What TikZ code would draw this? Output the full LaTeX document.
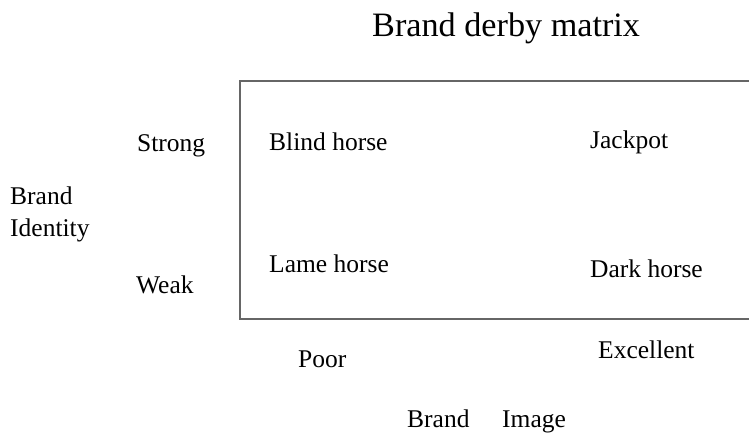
\documentclass[tikz,border=0pt]{standalone}
\usepackage{fontspec}
\setmainfont{Liberation Serif}
\begin{document}
\begin{tikzpicture}[x=1pt,y=-1pt,
  lbl/.style={anchor=base west,inner sep=0pt,font=\fontsize{25.5}{30}\selectfont},
  ttl/.style={anchor=base west,inner sep=0pt,font=\fontsize{34.2}{40}\selectfont},
  frame/.style={draw=black!60,line width=1.3pt}]
\useasboundingbox (0,0) rectangle (749,432);
\node[ttl] (title) at (372,36) {Brand derby matrix};
\coordinate (tr) at (752,81);
\coordinate (tl) at (240,81);
\coordinate (bl) at (240,319);
\coordinate (br) at (752,319);
\draw[frame] (tr) -- (tl) -- (bl) -- (br);
\node[lbl] (strong) at (137,151) {Strong};
\node[lbl] (blind) at (269,150) {Blind horse};
\node[lbl] (jack) at (590,148) {Jackpot};
\node[lbl] (brand1) at (10,204) {Brand};
\node[lbl] (ident) at (10,236) {Identity};
\node[lbl] (lame) at (269,272) {Lame horse};
\node[lbl] (dark) at (590,277) {Dark horse};
\node[lbl] (weak) at (136,293) {Weak};
\node[lbl] (poor) at (298,367) {Poor};
\node[lbl] (exc) at (598,358) {Excellent};
\node[lbl] (brand2) at (407,427) {Brand};
\node[lbl] (image) at (502,427) {Image};
\end{tikzpicture}
\end{document}
